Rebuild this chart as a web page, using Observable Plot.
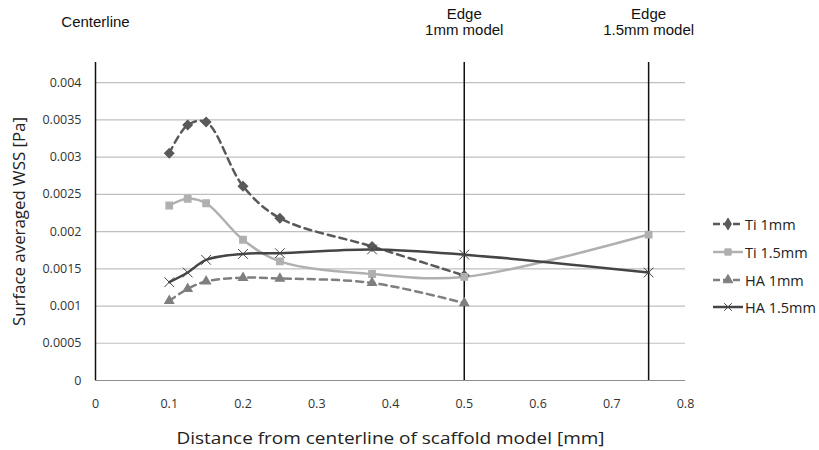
<!DOCTYPE html>
<html><head>
<meta charset="utf-8">
<script src="https://cdn.jsdelivr.net/npm/d3@7"></script>
<script src="https://cdn.jsdelivr.net/npm/@observablehq/plot@0.6"></script>
<style>
body{margin:0;background:#fff}
#wrap{position:relative;width:819px;height:450px;overflow:hidden}
.leg{position:absolute;left:712px;font-family:"Open Sans",sans-serif;font-size:14.5px;color:#222;display:flex;align-items:center;white-space:nowrap}
</style>
</head><body><div id="wrap"></div>
<script>
// ---- data ----
const distances = [0.1, 0.125, 0.15, 0.2, 0.25, 0.375, 0.5, 0.75];
const ti1mm  = [0.00305, 0.00343, 0.00347, 0.00261, 0.00218, 0.00180, 0.00141];
const ti15mm = [0.00235, 0.00244, 0.00238, 0.00189, 0.00160, 0.00143, 0.00139, 0.00196];
const ha1mm  = [0.00107, 0.00123, 0.00133, 0.00138, 0.00137, 0.00131, 0.00104];
const ha15mm = [0.00132, 0.00145, 0.00162, 0.00170, 0.00171, 0.00176, 0.00169, 0.00145];
const seriesNames = ["Ti 1mm", "Ti 1.5mm", "HA 1mm", "HA 1.5mm"];
const xTicks = [0, 0.1, 0.2, 0.3, 0.4, 0.5, 0.6, 0.7, 0.8];
const yTicks = [0, 0.0005, 0.001, 0.0015, 0.002, 0.0025, 0.003, 0.0035, 0.004];
const edges = [0.5, 0.75];
const centerLabel = [{x: 0, text: "Centerline"}];
const edgeLabels = [{x: 0.5, text: "Edge\n1mm model"}, {x: 0.75, text: "Edge\n1.5mm model"}];

// ---- styles ----
const styles = {
  "Ti 1mm":   {stroke: "#595959", dash: "7,5", symbol: "diamond2", fill: "#595959", r: 4},
  "Ti 1.5mm": {stroke: "#b0b0b0", dash: null,  symbol: "square2",  fill: "#b0b0b0", r: 4},
  "HA 1mm":   {stroke: "#7f7f7f", dash: "7,5", symbol: "triangle2",fill: "#7f7f7f", r: 4},
  "HA 1.5mm": {stroke: "#454545", dash: null,  symbol: "times",    fill: "none",    r: 4}
};
const allSeries = [ti1mm, ti15mm, ha1mm, ha15mm];
const data = seriesNames.map((name, i) => allSeries[i].map((v, j) => ({series: name, x: distances[j], y: v})));

const lineMarks = data.map((rows, i) => {
  const s = styles[seriesNames[i]];
  return Plot.line(rows, {x: "x", y: "y", stroke: s.stroke, strokeWidth: 2.5, strokeDasharray: s.dash, curve: "catmull-rom"});
});
const dotMarks = data.map((rows, i) => {
  const s = styles[seriesNames[i]];
  return s.symbol === "times"
    ? Plot.dot(rows, {x: "x", y: "y", symbol: "times", stroke: s.stroke, strokeWidth: 1, r: 4.5})
    : Plot.dot(rows, {x: "x", y: "y", symbol: s.symbol, fill: s.fill, stroke: s.fill, r: s.r});
});

const topFont = {fontFamily: "'Liberation Sans', Arial, sans-serif", fontSize: 15, fill: "#111", lineAnchor: "middle", frameAnchor: "top"};

const plot = Plot.plot({
  width: 819,
  height: 450,
  marginLeft: 95,
  marginRight: 134,
  marginTop: 62,
  marginBottom: 70,
  style: {fontFamily: "'Open Sans', sans-serif", fontSize: "12.5px", color: "#333", background: "#fff", overflow: "visible"},
  x: {domain: [0, 0.8], ticks: xTicks, tickSize: 0, tickPadding: 19, tickFormat: d3.format("~g"),
      label: "Distance from centerline of scaffold model [mm]", labelAnchor: "center", labelArrow: "none", labelOffset: 63},
  y: {domain: [0, 0.00427], ticks: yTicks, tickSize: 0, tickPadding: 14, tickFormat: d3.format("~g"),
      label: "Surface averaged WSS [Pa]", labelAnchor: "center", labelArrow: "none", labelOffset: 83},
  marks: [
    Plot.ruleY(yTicks, {stroke: "#bfbfbf", strokeWidth: 1.2}),
    Plot.ruleY([0], {stroke: "#8c8c8c", strokeWidth: 1.2}),
    Plot.ruleX([0], {stroke: "#111", strokeWidth: 1.5}),
    Plot.ruleX(edges, {stroke: "#111", strokeWidth: 1.5}),
    ...lineMarks,
    ...dotMarks,
    Plot.text(centerLabel, {x: "x", text: "text", dy: -40, ...topFont}),
    Plot.text(edgeLabels, {x: "x", text: "text", dy: -41, lineHeight: 1.07, ...topFont})
  ]
});
const yl = plot.querySelector("[aria-label='y-axis label'] text");
if (yl) { yl.style.fontSize = "17px"; yl.style.fill = "#222"; yl.setAttribute("textLength", "209"); yl.setAttribute("lengthAdjust", "spacingAndGlyphs"); }
const xl = plot.querySelector("[aria-label='x-axis label'] text");
if (xl) { xl.style.fontSize = "17px"; xl.style.fill = "#222"; xl.setAttribute("textLength", "428"); xl.setAttribute("lengthAdjust", "spacingAndGlyphs"); }
const wrap = document.getElementById("wrap");
wrap.appendChild(plot);

// ---- legend ----
const legY = [224, 252, 280, 307];
seriesNames.forEach((name, i) => {
  const s = styles[name];
  const div = document.createElement("div");
  div.className = "leg";
  div.style.top = (legY[i] - 10) + "px";
  const sym = d3.symbol(s.symbol === "times" ? d3.symbolTimes : s.symbol === "square2" ? d3.symbolSquare : s.symbol === "triangle2" ? d3.symbolTriangle : d3.symbolDiamond, 40)();
  div.innerHTML = `<svg width="32" height="20" style="margin-right:1px"><line x1="1" x2="31" y1="10" y2="10" stroke="${s.stroke}" stroke-width="2.5" ${s.dash ? 'stroke-dasharray="7,3"' : ''}/><path d="${sym}" transform="translate(16,10)" fill="${s.fill}" stroke="${s.stroke}" stroke-width="1"/></svg><span>${name}</span>`;
  wrap.appendChild(div);
});
</script>
</body></html>
